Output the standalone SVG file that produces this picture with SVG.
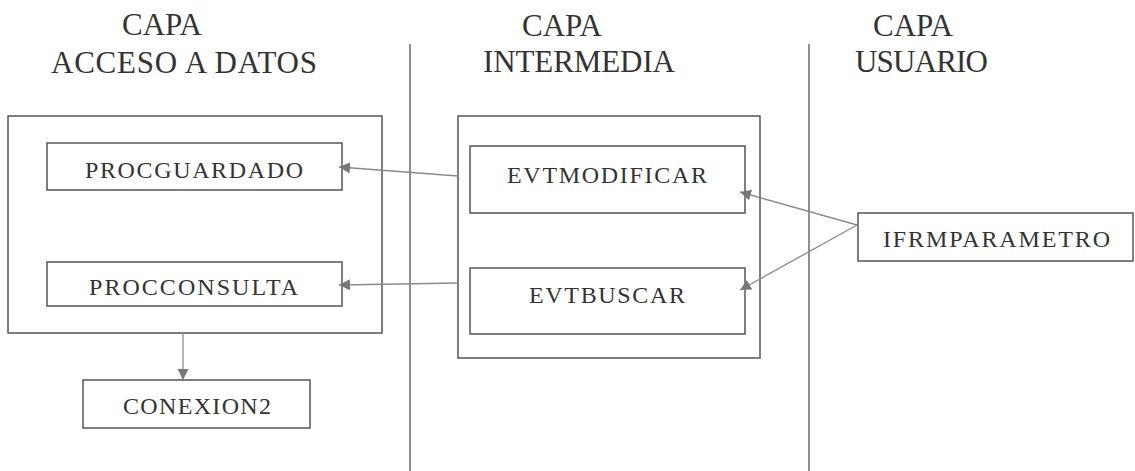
<svg xmlns="http://www.w3.org/2000/svg" width="1135" height="471" viewBox="0 0 1135 471">
<style>
.box{fill:none;stroke:#555;stroke-width:1.5}
.div{stroke:#555;stroke-width:1.3}
.hdr{font-size:31px;fill:#333}
.lbl{font-size:24px;fill:#333}
.con{fill:none;stroke:#8a8a8a;stroke-width:1.3}
</style>
<defs>
<marker id="ah" viewBox="0 0 10 10" refX="10" refY="5" markerWidth="11" markerHeight="11" markerUnits="userSpaceOnUse" orient="auto">
<path d="M0,0 L10,5 L0,10 z" fill="#777"/>
</marker>
</defs>
<g id="dividers">
<line class="div" x1="410" y1="44" x2="410" y2="471"/>
<line class="div" x1="809" y1="44" x2="809" y2="471"/>
</g>
<g id="headers" font-family="Liberation Serif, DejaVu Serif, serif">
<text class="hdr" x="122" y="35">CAPA</text>
<text class="hdr" x="51" y="73" textLength="266" lengthAdjust="spacing">ACCESO A DATOS</text>
<text class="hdr" x="522" y="36">CAPA</text>
<text class="hdr" x="483" y="72" textLength="192" lengthAdjust="spacing">INTERMEDIA</text>
<text class="hdr" x="873" y="36">CAPA</text>
<text class="hdr" x="855" y="72" textLength="133" lengthAdjust="spacing">USUARIO</text>
</g>
<g id="capa-datos">
<rect class="box" x="8" y="116" width="374" height="217"/>
</g>
<g id="capa-intermedia">
<rect class="box" x="458" y="116" width="302" height="242"/>
</g>
<g font-family="Liberation Serif, DejaVu Serif, serif">
<g id="procguardado">
<rect class="box" x="47" y="143" width="295" height="47"/>
<text class="lbl" x="85" y="178" textLength="218" lengthAdjust="spacing">PROCGUARDADO</text>
</g>
<g id="procconsulta">
<rect class="box" x="47" y="262" width="295" height="44"/>
<text class="lbl" x="89" y="295" textLength="209" lengthAdjust="spacing">PROCCONSULTA</text>
</g>
<g id="evtmodificar">
<rect class="box" x="470" y="146" width="275" height="67"/>
<text class="lbl" x="507" y="183" textLength="200" lengthAdjust="spacing">EVTMODIFICAR</text>
</g>
<g id="evtbuscar">
<rect class="box" x="470" y="268" width="275" height="66"/>
<text class="lbl" x="529" y="303" textLength="156" lengthAdjust="spacing">EVTBUSCAR</text>
</g>
<g id="ifrmparametro">
<rect class="box" x="858" y="213" width="275" height="48"/>
<text class="lbl" x="883" y="247" textLength="227" lengthAdjust="spacing">IFRMPARAMETRO</text>
</g>
<g id="conexion2">
<rect class="box" x="83" y="380" width="227" height="48"/>
<text class="lbl" x="123" y="414" textLength="148" lengthAdjust="spacing">CONEXION2</text>
</g>
</g>
<g id="connectors">
<line class="con" x1="458" y1="176" x2="339" y2="167" marker-end="url(#ah)"/>
<line class="con" x1="458" y1="283" x2="339" y2="285" marker-end="url(#ah)"/>
<line class="con" x1="857" y1="225" x2="740" y2="192" marker-end="url(#ah)"/>
<line class="con" x1="857" y1="225" x2="740" y2="290" marker-end="url(#ah)"/>
<line class="con" x1="183" y1="333" x2="183" y2="380" marker-end="url(#ah)"/>
</g>
</svg>
